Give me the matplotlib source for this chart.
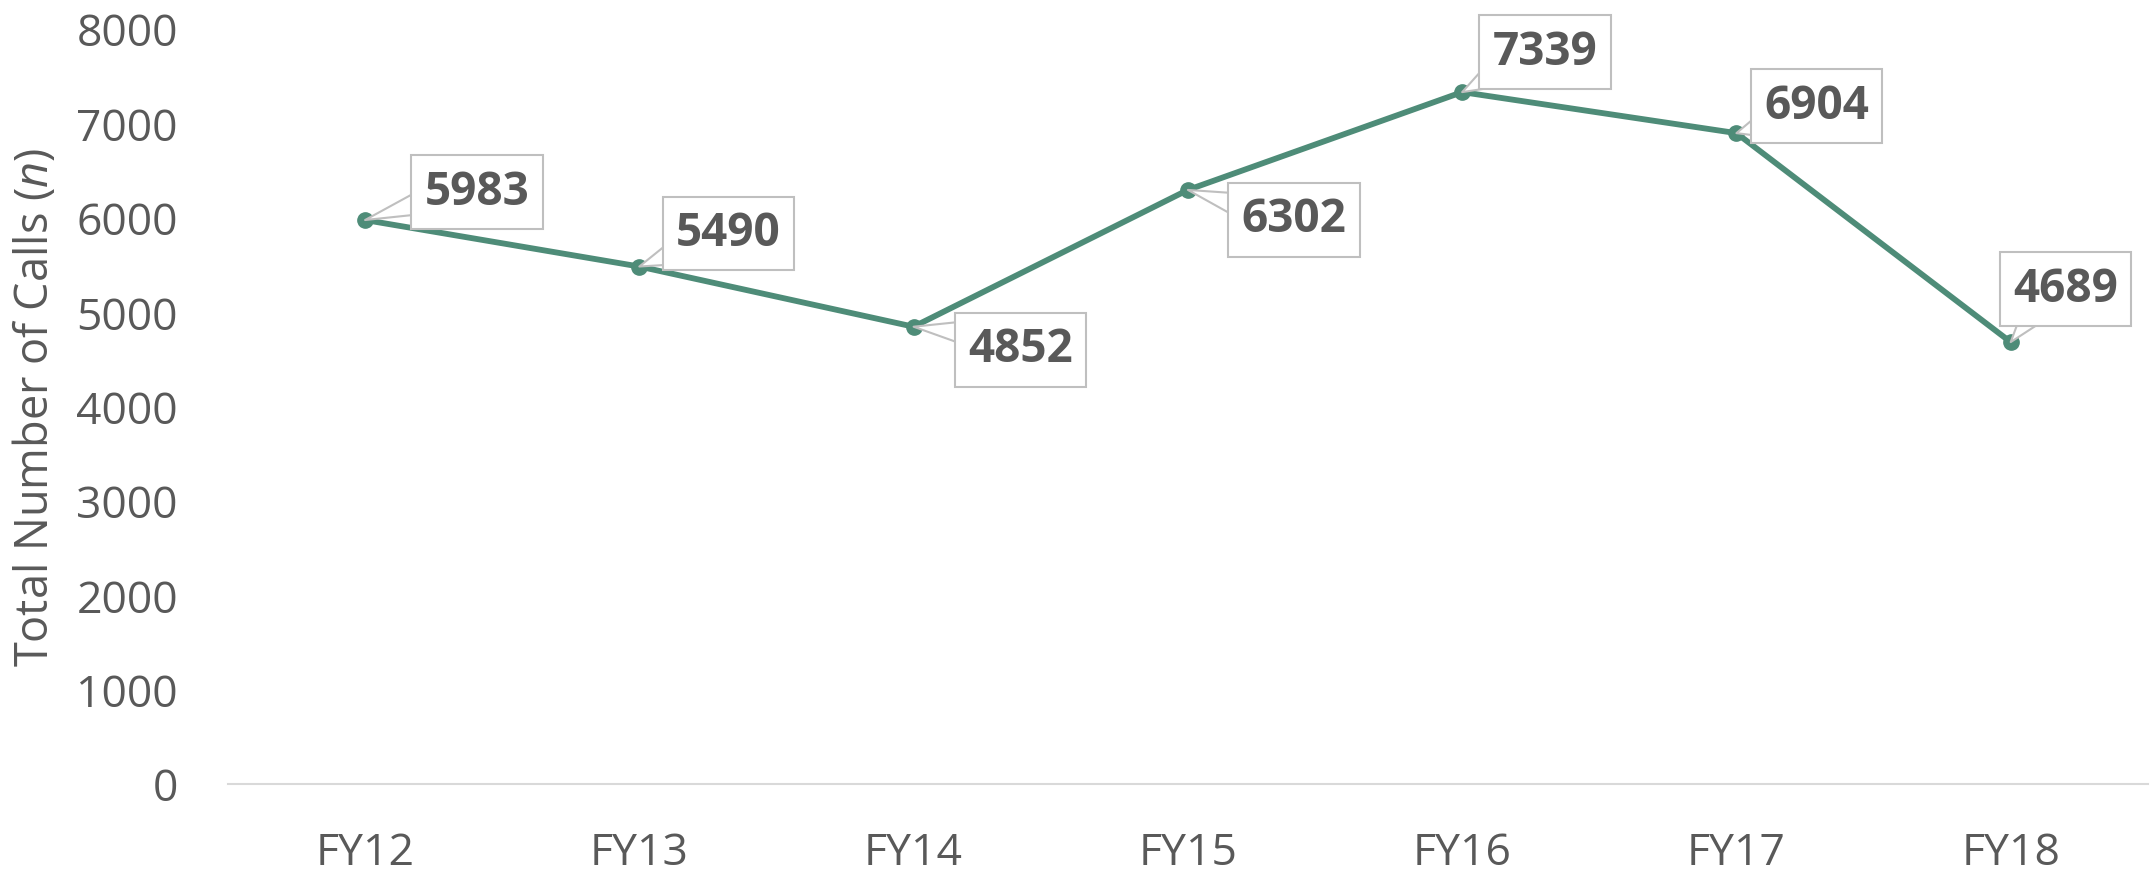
import matplotlib
matplotlib.use('Agg')
import matplotlib.pyplot as plt

years = ['FY12', 'FY13', 'FY14', 'FY15', 'FY16', 'FY17', 'FY18']
calls = [5983, 5490, 4852, 6302, 7339, 6904, 4689]
y_ticks = [0, 1000, 2000, 3000, 4000, 5000, 6000, 7000, 8000]

# where each callout box sits, offset in pixels from its point (centre of box)
label_offsets = [(112, 28), (89, 33), (107, -23), (106, -30),
                 (83, 40), (80, 27), (55, 53)]
# which part of the box the pointer leaves from
label_relpos = [(0, 0.3), (0, 0.1), (0, 0.85), (0, 0.8),
                (0, 0), (0, 0.1), (0.2, 0)]

LINE = '#4e8c78'
TEXT = '#595959'
GRID = '#d9d9d9'
BOXEDGE = '#bfbfbf'

plt.rcParams['font.family'] = ['Open Sans', 'DejaVu Sans']
plt.rcParams['mathtext.fontset'] = 'custom'
plt.rcParams['mathtext.it'] = 'Open Sans:italic'
plt.rcParams['mathtext.rm'] = 'Open Sans'

fig = plt.figure(figsize=(21.5, 8.75), dpi=100)
ax = fig.add_axes([0.106, 0.1035, 0.893, 0.8625])

x = list(range(len(years)))
ax.plot(x, calls, color=LINE, linewidth=4.2, marker='o', markersize=11,
        solid_capstyle='round', zorder=3)

for xi, val, off, rel in zip(x, calls, label_offsets, label_relpos):
  ax.annotate(str(val), xy=(xi, val), xytext=off, textcoords='offset pixels',
              ha='center', va='center', fontsize=33, fontweight='bold',
              color=TEXT, zorder=5,
              bbox=dict(boxstyle='square,pad=0.29', fc='white', ec=BOXEDGE,
                        lw=1.5),
              arrowprops=dict(arrowstyle='wedge,tail_width=0.6',
                              mutation_scale=30, fc='white', ec=BOXEDGE,
                              lw=1.5, patchA=None, shrinkA=0, shrinkB=0,
                              relpos=rel))

ax.set_xlim(-0.5, len(years) - 0.5)
ax.set_ylim(0, 8000)
ax.set_xticks(x)
ax.set_xticklabels(years)
ax.set_yticks(y_ticks)
ax.tick_params(axis='both', length=0, labelsize=32, labelcolor=TEXT)
ax.tick_params(axis='y', pad=36)
ax.tick_params(axis='x', pad=34)

for side in ['top', 'right', 'left']:
  ax.spines[side].set_visible(False)
ax.spines['bottom'].set_color(GRID)
ax.spines['bottom'].set_linewidth(1.5)

ax.set_ylabel(r'Total Number of Calls ($\mathit{n}$)', fontsize=32.5,
              color=TEXT)
ax.yaxis.set_label_coords(-0.088, 0.5)

fig.savefig('out.png', dpi=100)
